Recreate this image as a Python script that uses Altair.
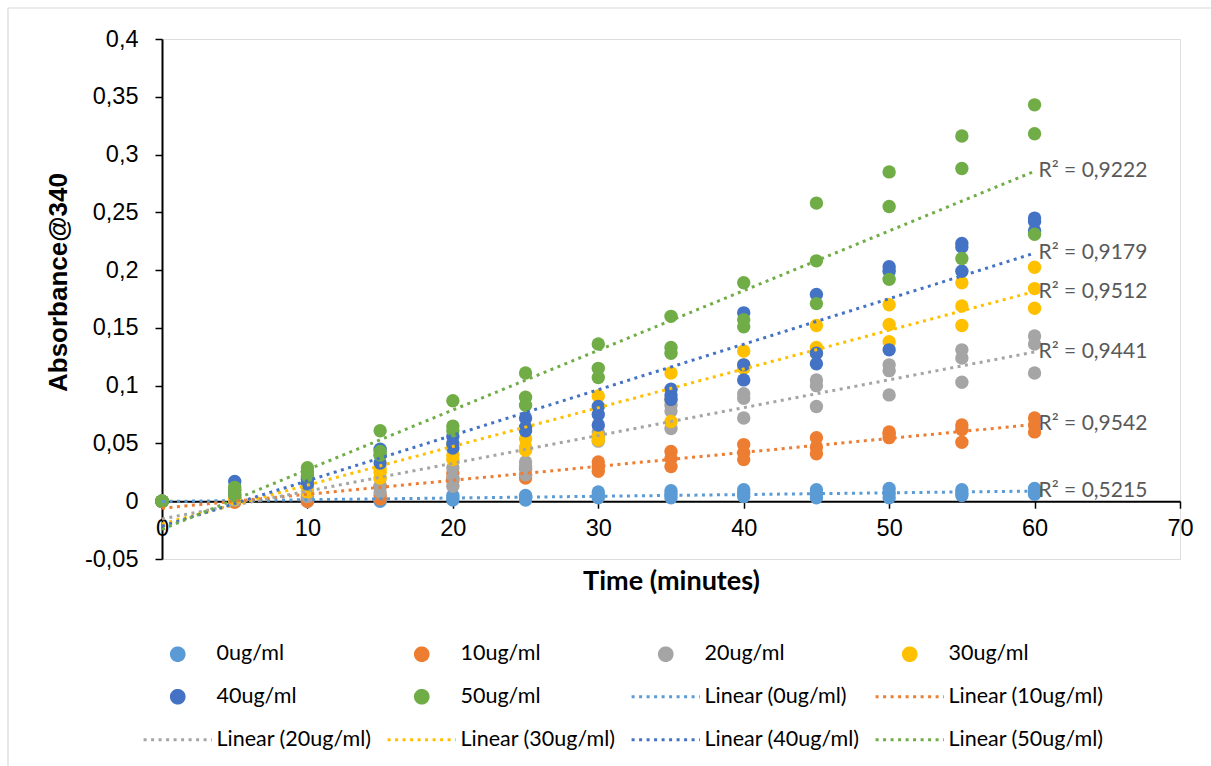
import altair as alt
import pandas as pd

# ---- data ----
times = [0, 5, 10, 15, 20, 25, 30, 35, 40, 45, 50, 55, 60]
series_names = ["0ug/ml", "10ug/ml", "20ug/ml", "30ug/ml", "40ug/ml", "50ug/ml"]
r2_labels = ["0,5215", "0,9542", "0,9441", "0,9512", "0,9179", "0,9222"]
colors = ["#5B9BD5", "#ED7D31", "#A5A5A5", "#FFC000", "#4472C4", "#70AD47"]
x_ticks = [0, 10, 20, 30, 40, 50, 60, 70]
y_ticks = [-0.05, 0, 0.05, 0.1, 0.15, 0.2, 0.25, 0.3, 0.35, 0.4]

# three replicates per time point
conc_0 = [[0, 0, 0], [0.000, 0.001, 0.000], [0.002, 0.001, 0.000], [0.002, 0.001, 0.000],
          [0.005, 0.003, 0.001], [0.005, 0.003, 0.001], [0.008, 0.005, 0.003], [0.009, 0.006, 0.003],
          [0.010, 0.007, 0.004], [0.010, 0.006, 0.003], [0.011, 0.007, 0.003], [0.010, 0.007, 0.005],
          [0.011, 0.008, 0.006]]
conc_10 = [[0, 0, 0], [0.001, -0.001, 0.000], [0.003, 0.001, 0.000], [0.013, 0.005, 0.002],
           [0.024, 0.020, 0.018], [0.028, 0.023, 0.020], [0.034, 0.030, 0.026], [0.043, 0.037, 0.030],
           [0.049, 0.042, 0.036], [0.055, 0.047, 0.041], [0.060, 0.058, 0.055], [0.066, 0.062, 0.051],
           [0.072, 0.066, 0.060]]
conc_20 = [[0, 0, 0], [0.003, 0.002, 0.001], [0.009, 0.006, 0.004], [0.020, 0.013, 0.008],
           [0.029, 0.020, 0.013], [0.034, 0.030, 0.023], [0.060, 0.056, 0.052], [0.083, 0.078, 0.063],
           [0.093, 0.089, 0.072], [0.105, 0.100, 0.082], [0.118, 0.113, 0.092], [0.131, 0.124, 0.103],
           [0.143, 0.136, 0.111]]
conc_30 = [[0, 0, 0], [0.004, 0.003, 0.002], [0.015, 0.012, 0.008], [0.028, 0.025, 0.020],
           [0.049, 0.040, 0.036], [0.054, 0.047, 0.044], [0.091, 0.056, 0.053], [0.111, 0.088, 0.069],
           [0.130, 0.118, 0.115], [0.152, 0.133, 0.128], [0.170, 0.153, 0.138], [0.189, 0.169, 0.152],
           [0.2025, 0.184, 0.167]]
conc_40 = [[0, 0, 0], [0.017, 0.010, 0.006], [0.021, 0.019, 0.015], [0.045, 0.040, 0.033],
           [0.056, 0.050, 0.046], [0.072, 0.064, 0.061], [0.082, 0.075, 0.066], [0.097, 0.092, 0.088],
           [0.163, 0.118, 0.105], [0.179, 0.128, 0.119], [0.203, 0.199, 0.131], [0.223, 0.220, 0.199],
           [0.245, 0.242, 0.234]]
conc_50 = [[0, 0, 0], [0.012, 0.009, 0.005], [0.029, 0.025, 0.022], [0.061, 0.043, 0.040],
           [0.087, 0.065, 0.061], [0.111, 0.090, 0.083], [0.136, 0.115, 0.107], [0.160, 0.133, 0.128],
           [0.189, 0.157, 0.151], [0.258, 0.208, 0.171], [0.285, 0.255, 0.192], [0.316, 0.288, 0.210],
           [0.343, 0.318, 0.231]]

all_series = [conc_0, conc_10, conc_20, conc_30, conc_40, conc_50]

rows = []
for name, reps in zip(series_names, all_series):
    for t, triple in zip(times, reps):
        for v in triple:
            rows.append({"series": name, "t": t, "v": v})
df = pd.DataFrame(rows)
r2_df = pd.DataFrame({"series": series_names, "r2": r2_labels})

line_names = [f"Linear ({s})" for s in series_names]
domain = series_names + line_names

color_scale = alt.Scale(domain=domain, range=colors + colors)
shape_scale = alt.Scale(domain=domain, range=["circle"] * 6 + ["M-5.4,0L5.4,0"] * 6)
dash_scale = alt.Scale(domain=domain, range=[[1, 0]] * 6 + [[3, 4.5]] * 6)

x_scale = alt.Scale(domain=[0, 70], nice=False, zero=False)
y_scale = alt.Scale(domain=[-0.05, 0.4], nice=False, zero=False)

H = 520
W = 1018
x_offset = -(H * 0.05 / 0.45)

x_axis = alt.Axis(values=x_ticks, offset=x_offset, tickSize=7, tickWidth=1.5, tickColor="black",
                  domainColor="black", domainWidth=2, grid=False, labelFlush=False,
                  labelPadding=8, labelFont="Liberation Sans", labelFontSize=23.5, labelColor="black",
                  title="Time (minutes)", titleFont="Lato", titleFontWeight="bold", titleFontSize=27,
                  titleColor="black", titleY=80, titleBaseline="middle")
y_axis = alt.Axis(values=y_ticks, tickSize=7, tickWidth=1.5, tickColor="black",
                  domainColor="black", domainWidth=2, grid=False, labelFlush=False,
                  labelPadding=17, labelFont="Liberation Sans", labelFontSize=23.5, labelColor="black",
                  labelExpr="replace(replace(format(datum.value, '.2~f'), '.', ','), '\u2212', '-')",
                  title="Absorbance@340", titleFont="Liberation Sans", titleFontWeight="bold",
                  titleFontSize=26, titleColor="black", titleX=-104, titleY=243,
                  titleBaseline="middle", titleAlign="center", titleAngle=270)

legend = alt.Legend(title=None, orient="none", legendX=5, legendY=604, columns=4,
                    direction="horizontal",
                    labelFont="Lato", labelFontSize=21.5, labelColor="black",
                    labelOffset=28, columnPadding=9, rowPadding=17, symbolSize=160,
                    symbolStrokeWidth=3, labelLimit=400, padding=0, gridAlign="all")

base = alt.Chart(df)

points = base.mark_point(filled=True, opacity=1, size=180).encode(
    x=alt.X("t:Q", scale=x_scale, axis=x_axis),
    y=alt.Y("v:Q", scale=y_scale, axis=y_axis),
    color=alt.Color("series:N", scale=color_scale, legend=legend),
    shape=alt.Shape("series:N", scale=shape_scale, legend=legend),
)

reg = base.transform_regression("t", "v", groupby=["series"], extent=[0, 60]).transform_calculate(
    lseries="'Linear (' + datum.series + ')'"
)

lines = reg.mark_line(strokeWidth=3, strokeCap="butt").encode(
    x=alt.X("t:Q", scale=x_scale),
    y=alt.Y("v:Q", scale=y_scale),
    color=alt.Color("lseries:N", scale=color_scale, legend=legend),
    strokeDash=alt.StrokeDash("lseries:N", scale=dash_scale, legend=legend),
    detail="lseries:N",
)

labels = reg.transform_filter("datum.t >= 59.99").transform_lookup(
    lookup="series", from_=alt.LookupData(r2_df, "series", ["r2"])
).transform_calculate(lab="'R\u00b2 = ' + datum.r2").mark_text(
    align="left", baseline="middle", dx=4, font="Lato", fontSize=21, color="#595959"
).encode(
    x=alt.X("t:Q", scale=x_scale),
    y=alt.Y("v:Q", scale=y_scale),
    text="lab:N",
)

# light grey chart-area border (top and left edges as in the reference)
border_top = alt.Chart(pd.DataFrame({"k": [0]})).mark_rule(color="#d9d9d9", strokeWidth=1.2).encode(
    x=alt.value(-154), x2=alt.value(W + 31), y=alt.value(-31)
)
border_left = alt.Chart(pd.DataFrame({"k": [0]})).mark_rule(color="#d9d9d9", strokeWidth=1.2).encode(
    x=alt.value(-154), y=alt.value(-31), y2=alt.value(H + 207)
)

chart = alt.layer(points, lines, labels, border_top, border_left).properties(
    width=W, height=H,
    autosize=alt.AutoSizeParams(type="none"),
    padding={"left": 162, "top": 39, "right": 31, "bottom": 207},
).configure_view(stroke=None).configure(background="white")

chart.save("out.html", embed_options={"renderer": "svg", "actions": False})
